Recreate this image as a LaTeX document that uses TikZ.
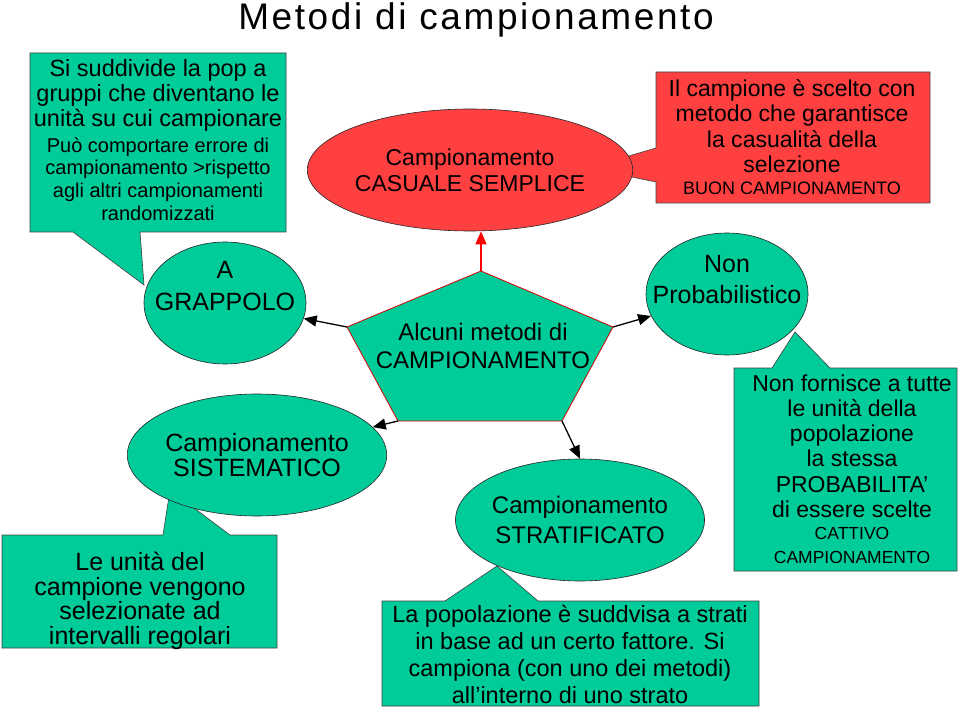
\documentclass[tikz,border=0pt]{standalone}
\usepackage{fontspec}
\setmainfont{Liberation Sans}
\usetikzlibrary{arrows.meta}
\usetikzlibrary{shapes.geometric}
\definecolor{verde}{RGB}{0,204,153}
\definecolor{rosso}{RGB}{255,64,64}
\newcommand{\sz}[2]{\fontsize{#1}{#2}\selectfont}
\tikzset{
	fumetto/.style={draw=black!75,line width=0.6pt,fill=verde},
	metodo/.style={ellipse,draw=black!85,line width=0.6pt,fill=verde,inner sep=0pt,align=center}
}

\begin{document}
\begin{tikzpicture}[x=1pt,y=-1pt]
	\useasboundingbox (0,0) rectangle (960,708);
	\node[anchor=base] (titolo) at (476,30) {\sz{37}{40}\addfontfeatures{LetterSpace=7}Metodi di campionamento};

	% fumetti
	\filldraw[fumetto] (30,53) -- (286,53) -- (286,232) -- (140,232) -- (144,285) -- (73,232) -- (30,232) -- cycle;
	\filldraw[fumetto,fill=rosso] (656,72) -- (930,72) -- (930,203) -- (656,203) -- (656,182) -- (588,168) -- (656,148) -- cycle;
	\filldraw[fumetto] (734,368) -- (772,368) -- (795,332) -- (830,368) -- (957,368) -- (957,571) -- (734,571) -- cycle;
	\filldraw[fumetto] (2,535) -- (163,535) -- (170,490) -- (230,535) -- (277,535) -- (277,648) -- (2,648) -- cycle;
	\filldraw[fumetto] (382,601) -- (445,601) -- (497,566) -- (538,601) -- (759,601) -- (759,706) -- (382,706) -- cycle;

	% pentagono
	\filldraw[fill=verde,draw=red!85!black,line width=0.8pt] (481,271) coordinate (ptop) -- (613,327) coordinate (pur)
		-- (562,421) coordinate (plr) -- (398,421) coordinate (pll) -- (347,327) coordinate (pul) -- cycle;

	\begin{scope}[every node/.style={metodo,minimum height=122pt}]
		\node[fill=rosso,minimum width=254pt,font=\sz{23}{26}] (casuale) at (470,170) {Campionamento\\CASUALE SEMPLICE};
		\node[minimum width=162pt] (grappolo) at (225,303) {};
		\node[minimum width=162pt] (nonprob) at (727,294) {};
		\node[minimum width=208pt,font=\sz{25}{25}] (sistematico) at (257,455) {Campionamento\\SISTEMATICO};
		\node[minimum width=208pt,font=\sz{24}{30}] (stratificato) at (580,520) {Campionamento\\STRATIFICATO};
	\end{scope}

	\begin{scope}[every node/.style={align=center,inner sep=0pt}]
		\node[font=\sz{24}{28}] (metodi) at (483,346) {Alcuni metodi di\\CAMPIONAMENTO};
		\node[font=\sz{25}{32}] (grappolotxt) at (225,286) {A\\GRAPPOLO};
		\node[font=\sz{25}{31}] (nonprobtxt) at (727,280) {Non\\Probabilistico};
		\node[font=\sz{23.5}{25}] (suddivide) at (158,95) {Si suddivide la pop a\\gruppi che diventano le\\unità su cui campionare};
		\node[font=\sz{20}{22.7}] (errore) at (158,179) {Può comportare errore di\\campionamento >rispetto\\agli altri campionamenti\\randomizzati};
		\node[font=\sz{23}{25.3}] (scelto) at (792,126) {Il campione è scelto con\\metodo che garantisce\\la casualità della\\selezione};
		\node[font=\sz{18}{20}] (buon) at (792,188) {BUON CAMPIONAMENTO};
		\node[font=\sz{23}{25.2}] (fornisce) at (852,446) {Non fornisce a tutte\\le unità della\\popolazione\\la stessa\\PROBABILITA’\\di essere scelte};
		\node[font=\sz{17.5}{24}] (cattivo) at (852,545) {CATTIVO\\CAMPIONAMENTO};
		\node[font=\sz{25}{24.5}] (regolari) at (140,601) {Le unità del\\campione vengono\\selezionate ad\\intervalli regolari};
		\node[font=\sz{23.5}{27}] (strati) at (570,654) {La popolazione è suddvisa a strati\\in base ad un certo fattore. Si\\campiona (con uno dei metodi)\\all’interno di uno strato};
	\end{scope}

	\begin{scope}[>={Triangle[length=13pt,width=11pt]},line width=1.3pt]
		\path (pul) edge[->] (grappolo);
		\path (pur) edge[->] (nonprob);
		\path (pll) edge[->] (sistematico);
		\path (plr) edge[->] (stratificato.north);
		\path (ptop) edge[->,red] (ptop |- casuale.south);
	\end{scope}
\end{tikzpicture}
\end{document}
